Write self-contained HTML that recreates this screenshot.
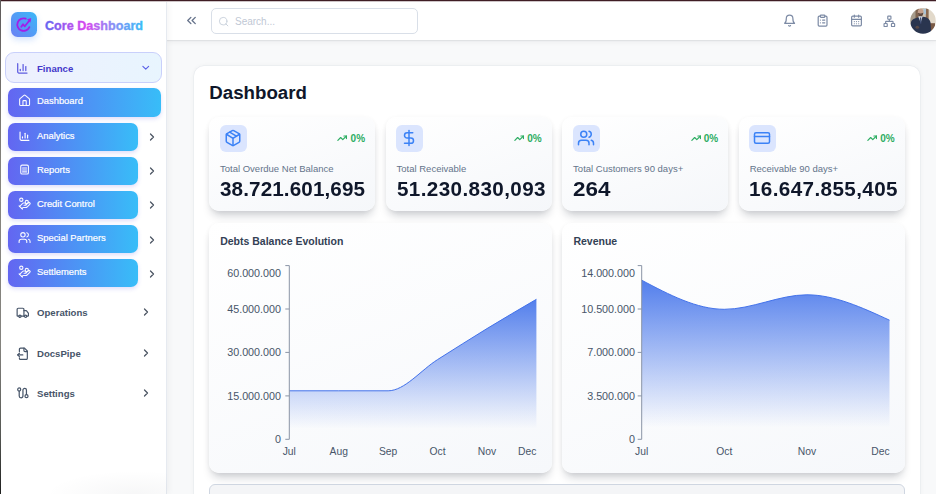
<!DOCTYPE html><html><head><meta charset="utf-8"><style>
*{margin:0;padding:0;box-sizing:content-box}
html,body{width:936px;height:494px;overflow:hidden;background:#f8f9fa}
body{position:relative;font-family:"Liberation Sans",sans-serif}
.r{position:absolute}
.t{position:absolute;white-space:nowrap;line-height:1}
</style></head><body>
<div class="r" style="left:0px;top:0px;width:936.00px;height:494.00px;background:#f8f9fa;"></div>
<div class="r" style="left:167.4px;top:1.5px;width:768.60px;height:38.50px;background:#fff;box-shadow:0 1px 1px rgba(15,23,42,0.07),0 2px 6px rgba(15,23,42,0.05);"></div>
<div class="r" style="left:1px;top:1.5px;width:166.40px;height:492.50px;background:#fff;box-shadow:1px 0 7px rgba(15,23,42,0.055);border-right:0.6px solid #e6eaf0;box-sizing:border-box;"></div>
<div class="r" style="left:40px;top:455px;width:127.40px;height:39.00px;background:radial-gradient(ellipse 70% 60% at 75% 100%,rgba(15,23,42,0.035),rgba(15,23,42,0) 100%);"></div>
<div class="r" style="left:0px;top:0px;width:936.00px;height:2.20px;background:linear-gradient(#3f1d24 0%,#3f1d24 40%,rgba(120,90,95,0.45) 65%,rgba(255,255,255,0) 100%);"></div>
<div class="r" style="left:0px;top:0px;width:1.00px;height:494.00px;background:linear-gradient(#5e5a5a 0%,#87857f 35%,#84837e 70%,#555753 88%,#1e1f1e 100%);"></div>
<div class="r" style="left:10.9px;top:11.9px;width:25.90px;height:25.60px;border-radius:6.5px;background:linear-gradient(45deg,#6b80f4,#3ab8f8);box-shadow:0 3px 6px rgba(59,130,246,0.22);"></div>
<svg class="r" style="left:8px;top:9px;" width="32" height="32" viewBox="8 9 32 32" fill="none"><g stroke="#a21fe8" stroke-width="1.8" stroke-linecap="round" stroke-linejoin="round"><path d="M25.8 18.7 A6.3 6.3 0 1 0 29.4 27.1"/><path d="M21.3 26.8 L23 24.3 L24.8 26.3 L29.6 20.2"/></g><path d="M30.8 18.6 L27.6 19.6 L30 22.2 Z" fill="#a21fe8" stroke="#a21fe8" stroke-width="0.8" stroke-linejoin="round"/></svg>
<svg class="r" style="left:40px;top:12px" width="110" height="24" viewBox="40 12 110 24"><defs><linearGradient id="lg" x1="45" y1="0" x2="143.5" y2="0" gradientUnits="userSpaceOnUse"><stop offset="0" stop-color="#6366f1"/><stop offset="0.42" stop-color="#d946ef"/><stop offset="0.68" stop-color="#8b8cf5"/><stop offset="1" stop-color="#38bdf8"/></linearGradient></defs><text x="45" y="29.6" font-family="Liberation Sans" font-weight="700" font-size="12.8" fill="url(#lg)" stroke="url(#lg)" stroke-width="0.35" textLength="98" lengthAdjust="spacingAndGlyphs">Core Dashboard</text></svg>
<div class="r" style="left:5px;top:52.3px;width:157.40px;height:30.70px;border:1px solid #c9d0fb;border-radius:9px;background:linear-gradient(90deg,#eef0fe,#e8f5fe);box-sizing:border-box;"></div>
<svg class="r" style="left:12px;top:58px;" width="20" height="20" viewBox="12 58 20 20" fill="none"><g stroke="#5f5ce0" stroke-width="1.25" stroke-linecap="round" stroke-linejoin="round"><path d="M17.7 63.7V71.8a1.2 1.2 0 0 0 1.2 1.2H27"/><path d="M20.3 69.4v1.2"/><path d="M23.1 64.6v6"/><path d="M25.8 66.6v4"/></g></svg>
<div class="t" style="left:37.00px;top:64.07px;font-size:9.6px;color:#4338ca;font-weight:700;">Finance</div>
<svg class="r" style="left:139.90px;top:61.90px;" width="11.50" height="11.50" viewBox="0 0 24 24" fill="none" stroke="#5b61e8" stroke-width="2.4" stroke-linecap="round" stroke-linejoin="round"><path d="m6 9 6 6 6-6"/></svg>
<div class="r" style="left:8.2px;top:88.4px;width:153.30px;height:28.30px;border-radius:7px;background:linear-gradient(90deg,#6366f1,#38bdf8);box-shadow:0 2px 4px rgba(79,70,229,0.18);"></div>
<svg class="r" style="left:17.80px;top:94.20px;" width="13.20" height="13.20" viewBox="0 0 24 24" fill="none" stroke="rgba(255,255,255,0.95)" stroke-width="2" stroke-linecap="round" stroke-linejoin="round"><path d="M15 21v-8a1 1 0 0 0-1-1h-4a1 1 0 0 0-1 1v8"/><path d="M3 10a2 2 0 0 1 .709-1.528l7-5.999a2 2 0 0 1 2.582 0l7 5.999A2 2 0 0 1 21 10v9a2 2 0 0 1-2 2H5a2 2 0 0 1-2-2z"/></svg>
<div class="t" style="left:37.00px;top:96.44px;font-size:9.4px;color:#fff;font-weight:400;-webkit-text-stroke:0.2px #fff;">Dashboard</div>
<div class="r" style="left:8.2px;top:122.5px;width:129.40px;height:28.30px;border-radius:7px;background:linear-gradient(90deg,#6366f1,#38bdf8);box-shadow:0 2px 4px rgba(79,70,229,0.18);"></div>
<svg class="r" style="left:14px;top:122.5px;" width="20" height="28" viewBox="14 122.5 20 28" fill="none"><g stroke="#fff" stroke-width="1.15" stroke-linecap="round" stroke-linejoin="round" transform="translate(0,0.0)"><path d="M20.05 131.45V138.6a1.2 1.2 0 0 0 1.2 1.2H28.95"/><path d="M22.5 136.4v1.1"/><path d="M25.1 132.85v4.65"/><path d="M27.6 134.65v2.85"/></g></svg>
<div class="t" style="left:37.00px;top:130.54px;font-size:9.4px;color:#fff;font-weight:400;-webkit-text-stroke:0.2px #fff;">Analytics</div>
<svg class="r" style="left:146.00px;top:131.10px;" width="12.00" height="12.00" viewBox="0 0 24 24" fill="none" stroke="#4b5563" stroke-width="2.5" stroke-linecap="round" stroke-linejoin="round"><path d="m9 18 6-6-6-6"/></svg>
<div class="r" style="left:8.2px;top:156.6px;width:129.40px;height:28.30px;border-radius:7px;background:linear-gradient(90deg,#6366f1,#38bdf8);box-shadow:0 2px 4px rgba(79,70,229,0.18);"></div>
<svg class="r" style="left:17.80px;top:162.40px;" width="13.20" height="13.20" viewBox="0 0 24 24" fill="none" stroke="rgba(255,255,255,0.95)" stroke-width="2" stroke-linecap="round" stroke-linejoin="round"><rect x="5" y="5.6" width="14" height="16.3" rx="2.5"/><path d="M8.3 11h7.4"/><path d="M8.3 14.5h7.4"/><path d="M8.3 18h7.4"/></svg>
<div class="t" style="left:37.00px;top:164.64px;font-size:9.4px;color:#fff;font-weight:400;-webkit-text-stroke:0.2px #fff;">Reports</div>
<svg class="r" style="left:146.00px;top:165.20px;" width="12.00" height="12.00" viewBox="0 0 24 24" fill="none" stroke="#4b5563" stroke-width="2.5" stroke-linecap="round" stroke-linejoin="round"><path d="m9 18 6-6-6-6"/></svg>
<div class="r" style="left:8.2px;top:190.8px;width:129.40px;height:28.30px;border-radius:7px;background:linear-gradient(90deg,#6366f1,#38bdf8);box-shadow:0 2px 4px rgba(79,70,229,0.18);"></div>
<svg class="r" style="left:17.80px;top:197.00px;" width="13.20" height="13.20" viewBox="0 0 24 24" fill="none" stroke="rgba(255,255,255,0.95)" stroke-width="2" stroke-linecap="round" stroke-linejoin="round"><path d="M11 15h2a2 2 0 1 0 0-4h-3c-.6 0-1.1.2-1.4.6L3 17"/><path d="m7 21 1.6-1.4c.3-.4.8-.6 1.4-.6h4c1.1 0 2.1-.4 2.8-1.2l4.6-4.4a2 2 0 0 0-2.75-2.91l-4.2 3.9"/><path d="m2 16 6 6"/><circle cx="16" cy="9" r="2.9"/><circle cx="6" cy="5" r="3"/></svg>
<div class="t" style="left:37.00px;top:198.84px;font-size:9.4px;color:#fff;font-weight:400;-webkit-text-stroke:0.2px #fff;">Credit Control</div>
<svg class="r" style="left:146.00px;top:199.40px;" width="12.00" height="12.00" viewBox="0 0 24 24" fill="none" stroke="#4b5563" stroke-width="2.5" stroke-linecap="round" stroke-linejoin="round"><path d="m9 18 6-6-6-6"/></svg>
<div class="r" style="left:8.2px;top:224.9px;width:129.40px;height:28.30px;border-radius:7px;background:linear-gradient(90deg,#6366f1,#38bdf8);box-shadow:0 2px 4px rgba(79,70,229,0.18);"></div>
<svg class="r" style="left:17.80px;top:230.70px;" width="13.20" height="13.20" viewBox="0 0 24 24" fill="none" stroke="rgba(255,255,255,0.95)" stroke-width="2" stroke-linecap="round" stroke-linejoin="round"><path d="M16 21v-2a4 4 0 0 0-4-4H6a4 4 0 0 0-4 4v2"/><circle cx="9" cy="7" r="4"/><path d="M22 21v-2a4 4 0 0 0-3-3.87"/><path d="M16 3.13a4 4 0 0 1 0 7.75"/></svg>
<div class="t" style="left:37.00px;top:232.94px;font-size:9.4px;color:#fff;font-weight:400;-webkit-text-stroke:0.2px #fff;">Special Partners</div>
<svg class="r" style="left:146.00px;top:233.50px;" width="12.00" height="12.00" viewBox="0 0 24 24" fill="none" stroke="#4b5563" stroke-width="2.5" stroke-linecap="round" stroke-linejoin="round"><path d="m9 18 6-6-6-6"/></svg>
<div class="r" style="left:8.2px;top:259.1px;width:129.40px;height:28.30px;border-radius:7px;background:linear-gradient(90deg,#6366f1,#38bdf8);box-shadow:0 2px 4px rgba(79,70,229,0.18);"></div>
<svg class="r" style="left:17.80px;top:265.30px;" width="13.20" height="13.20" viewBox="0 0 24 24" fill="none" stroke="rgba(255,255,255,0.95)" stroke-width="2" stroke-linecap="round" stroke-linejoin="round"><path d="M11 15h2a2 2 0 1 0 0-4h-3c-.6 0-1.1.2-1.4.6L3 17"/><path d="m7 21 1.6-1.4c.3-.4.8-.6 1.4-.6h4c1.1 0 2.1-.4 2.8-1.2l4.6-4.4a2 2 0 0 0-2.75-2.91l-4.2 3.9"/><path d="m2 16 6 6"/><circle cx="16" cy="9" r="2.9"/><circle cx="6" cy="5" r="3"/></svg>
<div class="t" style="left:37.00px;top:267.14px;font-size:9.4px;color:#fff;font-weight:400;-webkit-text-stroke:0.2px #fff;">Settlements</div>
<svg class="r" style="left:146.00px;top:267.70px;" width="12.00" height="12.00" viewBox="0 0 24 24" fill="none" stroke="#4b5563" stroke-width="2.5" stroke-linecap="round" stroke-linejoin="round"><path d="m9 18 6-6-6-6"/></svg>
<svg class="r" style="left:15.80px;top:305.80px;" width="13.60" height="13.60" viewBox="0 0 24 24" fill="none" stroke="#475569" stroke-width="2.1" stroke-linecap="round" stroke-linejoin="round"><path d="M14 18V6a2 2 0 0 0-2-2H4a2 2 0 0 0-2 2v11a1 1 0 0 0 1 1h2"/><path d="M15 18H9"/><path d="M19 18h2a1 1 0 0 0 1-1v-3.65a1 1 0 0 0-.22-.624l-3.48-4.35A1 1 0 0 0 17.52 8H14"/><circle cx="17" cy="18" r="2"/><circle cx="7" cy="18" r="2"/></svg>
<div class="t" style="left:37.00px;top:308.07px;font-size:9.6px;color:#475569;font-weight:700;">Operations</div>
<svg class="r" style="left:139.80px;top:305.90px;" width="12.00" height="12.00" viewBox="0 0 24 24" fill="none" stroke="#4b5563" stroke-width="2.5" stroke-linecap="round" stroke-linejoin="round"><path d="m9 18 6-6-6-6"/></svg>
<svg class="r" style="left:15.80px;top:346.50px;" width="13.60" height="13.60" viewBox="0 0 24 24" fill="none" stroke="#475569" stroke-width="2.1" stroke-linecap="round" stroke-linejoin="round"><path d="M6 8V4a2 2 0 0 1 2-2h7l5 5v13a2 2 0 0 1-2 2H8a2 2 0 0 1-2-2v-1"/><path d="M14 2v4a2 2 0 0 0 2 2h4"/><path d="M12 14H3"/><path d="m6 11-3 3 3 3"/></svg>
<div class="t" style="left:37.00px;top:348.77px;font-size:9.6px;color:#475569;font-weight:700;">DocsPipe</div>
<svg class="r" style="left:139.80px;top:346.60px;" width="12.00" height="12.00" viewBox="0 0 24 24" fill="none" stroke="#4b5563" stroke-width="2.5" stroke-linecap="round" stroke-linejoin="round"><path d="m9 18 6-6-6-6"/></svg>
<svg class="r" style="left:15.60px;top:386.40px;" width="14.00" height="14.00" viewBox="0 0 24 24" fill="none" stroke="#475569" stroke-width="2.1" stroke-linecap="round" stroke-linejoin="round"><circle cx="5.5" cy="6" r="2.6"/><path d="M5.5 8.6V17a3.2 3.2 0 0 0 6.4 0V7a3 3 0 0 1 6 0v7.5"/><circle cx="18" cy="17.5" r="2.6"/></svg>
<div class="t" style="left:37.00px;top:388.77px;font-size:9.6px;color:#475569;font-weight:700;">Settings</div>
<svg class="r" style="left:139.80px;top:386.60px;" width="12.00" height="12.00" viewBox="0 0 24 24" fill="none" stroke="#4b5563" stroke-width="2.5" stroke-linecap="round" stroke-linejoin="round"><path d="m9 18 6-6-6-6"/></svg>
<svg class="r" style="left:184.20px;top:13.40px;" width="15.00" height="15.00" viewBox="0 0 24 24" fill="none" stroke="#66738b" stroke-width="2.2" stroke-linecap="round" stroke-linejoin="round"><path d="m11 17-5-5 5-5"/><path d="m18 17-5-5 5-5"/></svg>
<div class="r" style="left:211.4px;top:8.3px;width:206.90px;height:25.40px;border:1px solid #d9dfe8;border-radius:5px;box-sizing:border-box;background:#fff;"></div>
<svg class="r" style="left:217.50px;top:15.50px;" width="11.30" height="11.30" viewBox="0 0 24 24" fill="none" stroke="#c8d0db" stroke-width="2" stroke-linecap="round" stroke-linejoin="round"><circle cx="11" cy="11" r="8"/><path d="m21 21-4.3-4.3"/></svg>
<div class="t" style="left:235.00px;top:17.14px;font-size:10px;color:#bfc8d5;font-weight:400;">Search...</div>
<svg class="r" style="left:782.70px;top:14.20px;" width="13.20" height="13.20" viewBox="0 0 24 24" fill="none" stroke="#7d8ba5" stroke-width="2.2" stroke-linecap="round" stroke-linejoin="round"><path d="M6 8a6 6 0 0 1 12 0c0 7 3 9 3 9H3s3-2 3-9"/><path d="M10.3 21a1.94 1.94 0 0 0 3.4 0"/></svg>
<svg class="r" style="left:815.90px;top:14.40px;" width="13.20" height="13.20" viewBox="0 0 24 24" fill="none" stroke="#7d8ba5" stroke-width="2.2" stroke-linecap="round" stroke-linejoin="round"><rect width="8" height="4" x="8" y="2" rx="1" ry="1"/><path d="M16 4h2a2 2 0 0 1 2 2v14a2 2 0 0 1-2 2H6a2 2 0 0 1-2-2V6a2 2 0 0 1 2-2h2"/><path d="M12 11h4"/><path d="M12 16h4"/><path d="M8 11h.01"/><path d="M8 16h.01"/></svg>
<svg class="r" style="left:849.70px;top:14.30px;" width="13.00" height="13.00" viewBox="0 0 24 24" fill="none" stroke="#7d8ba5" stroke-width="2.2" stroke-linecap="round" stroke-linejoin="round"><path d="M8 2v4"/><path d="M16 2v4"/><rect width="18" height="18" x="3" y="4" rx="2"/><path d="M3 10h18"/><path d="M8 14h.01"/><path d="M12 14h.01"/><path d="M16 14h.01"/><path d="M8 18h.01"/><path d="M12 18h.01"/><path d="M16 18h.01"/></svg>
<svg class="r" style="left:883.40px;top:14.50px;" width="12.70" height="12.70" viewBox="0 0 24 24" fill="none" stroke="#7d8ba5" stroke-width="2.2" stroke-linecap="round" stroke-linejoin="round"><rect x="16" y="16" width="6" height="6" rx="1"/><rect x="2" y="16" width="6" height="6" rx="1"/><rect x="9" y="2" width="6" height="6" rx="1"/><path d="M5 16v-3a1 1 0 0 1 1-1h12a1 1 0 0 1 1 1v3"/><path d="M12 12V8"/></svg>
<svg class="r" style="left:910px;top:7.8px" width="26" height="26" viewBox="910 7.8 26 26">
<defs><clipPath id="avc"><circle cx="923" cy="20.7" r="12.8"/></clipPath><filter id="avb" x="-20%" y="-20%" width="140%" height="140%"><feGaussianBlur stdDeviation="0.7"/></filter></defs>
<g clip-path="url(#avc)"><g filter="url(#avb)">
<rect x="905" y="3" width="36" height="36" fill="#cfc4b3"/>
<rect x="905" y="3" width="12" height="36" fill="#a79c8c"/>
<rect x="915.5" y="5" width="3.5" height="14" fill="#7f6450"/>
<rect x="928.5" y="5" width="7.5" height="30" fill="#e2d9ca"/>
<rect x="925.8" y="6" width="2.8" height="14" fill="#8a6a52"/>
<rect x="923.4" y="8.5" width="2.6" height="5.5" fill="#aac3d6"/>
<rect x="930" y="23" width="5" height="10" fill="#7a5a44"/>
<ellipse cx="920.6" cy="12" rx="2.8" ry="3.6" fill="#c4a08c"/><path d="M917.9 12.6 Q918.4 16.6 920.6 16.6 Q922.8 16.6 923.3 12.6 Q920.6 14.2 917.9 12.6Z" fill="#5e4a3f"/>

<path d="M910 36 L910.5 24 Q911 19 915.5 18 L920.5 16.2 L925 16.8 Q929.5 18 930.5 22 L931.5 36Z" fill="#2b3450"/>
<path d="M918.2 16.2 L920.5 16 L922.6 16.3 L920.7 22.5Z" fill="#d9dee6"/>
<path d="M920 17.2 L921.2 17.2 L921.4 23 L920.3 24Z" fill="#3b4a70"/>
<ellipse cx="917.3" cy="27" rx="1.8" ry="1.5" fill="#5a4a44"/>
</g></g></svg>
<div class="r" style="left:194px;top:66px;width:725.50px;height:454.00px;background:#fff;border-radius:10px;box-shadow:0 0 0 0.5px rgba(225,229,235,0.7),0 0 5px rgba(15,23,42,0.05);"></div>
<div class="t" style="left:209.30px;top:84.37px;font-size:18.7px;color:#0f172a;font-weight:700;">Dashboard</div>
<div class="r" style="left:209.0px;top:116.7px;width:166.35px;height:93.90px;border-radius:10px;background:linear-gradient(160deg,#ffffff,#f5f7fa);box-shadow:0 7px 10px -3px rgba(15,23,42,0.21),0 1px 5px rgba(15,23,42,0.05);"></div>
<div class="r" style="left:219.5px;top:125.1px;width:27.20px;height:26.80px;border-radius:6px;background:#dbe5fe;"></div>
<svg class="r" style="left:223.60px;top:129.40px;" width="18.00" height="18.00" viewBox="0 0 24 24" fill="none" stroke="#3b82f6" stroke-width="2" stroke-linecap="round" stroke-linejoin="round"><path d="M11 21.73a2 2 0 0 0 2 0l7-4A2 2 0 0 0 21 16V8a2 2 0 0 0-1-1.73l-7-4a2 2 0 0 0-2 0l-7 4A2 2 0 0 0 3 8v8a2 2 0 0 0 1 1.73z"/><path d="M12 22V12"/><path d="m3.3 7 7.703 4.734a2 2 0 0 0 1.994 0L20.7 7"/><path d="m7.5 4.27 9 5.15"/></svg>
<div class="t" style="right:570.95px;text-align:right;top:134.44px;font-size:10px;color:#2cad62;font-weight:700;">0%</div>
<svg class="r" style="left:337.45px;top:133.30px;" width="10.30" height="10.30" viewBox="0 0 24 24" fill="none" stroke="#2cad62" stroke-width="2.7" stroke-linecap="round" stroke-linejoin="round"><polyline points="22 7 13.5 15.5 8.5 10.5 2 17"/><polyline points="16 7 22 7 22 13"/></svg>
<div class="t" style="left:220.00px;top:164.36px;font-size:9.5px;color:#64748b;font-weight:400;">Total Overdue Net Balance</div>
<div class="t" style="left:220.00px;top:179.89px;font-size:19.5px;color:#0f172a;font-weight:700;letter-spacing:0.1px;transform:scaleX(1.06);transform-origin:0 0;">38.721.601,695</div>
<div class="r" style="left:385.55px;top:116.7px;width:166.35px;height:93.90px;border-radius:10px;background:linear-gradient(160deg,#ffffff,#f5f7fa);box-shadow:0 7px 10px -3px rgba(15,23,42,0.21),0 1px 5px rgba(15,23,42,0.05);"></div>
<div class="r" style="left:396.05px;top:125.1px;width:27.20px;height:26.80px;border-radius:6px;background:#dbe5fe;"></div>
<svg class="r" style="left:400.15px;top:129.40px;" width="18.00" height="18.00" viewBox="0 0 24 24" fill="none" stroke="#3b82f6" stroke-width="2" stroke-linecap="round" stroke-linejoin="round"><line x1="12" x2="12" y1="2" y2="22"/><path d="M17 5H9.5a3.5 3.5 0 0 0 0 7h5a3.5 3.5 0 0 1 0 7H6"/></svg>
<div class="t" style="right:394.40px;text-align:right;top:134.44px;font-size:10px;color:#2cad62;font-weight:700;">0%</div>
<svg class="r" style="left:514.00px;top:133.30px;" width="10.30" height="10.30" viewBox="0 0 24 24" fill="none" stroke="#2cad62" stroke-width="2.7" stroke-linecap="round" stroke-linejoin="round"><polyline points="22 7 13.5 15.5 8.5 10.5 2 17"/><polyline points="16 7 22 7 22 13"/></svg>
<div class="t" style="left:396.55px;top:164.36px;font-size:9.5px;color:#64748b;font-weight:400;">Total Receivable</div>
<div class="t" style="left:396.55px;top:179.89px;font-size:19.5px;color:#0f172a;font-weight:700;letter-spacing:0.35px;transform:scaleX(1.06);transform-origin:0 0;">51.230.830,093</div>
<div class="r" style="left:562.1px;top:116.7px;width:166.35px;height:93.90px;border-radius:10px;background:linear-gradient(160deg,#ffffff,#f5f7fa);box-shadow:0 7px 10px -3px rgba(15,23,42,0.21),0 1px 5px rgba(15,23,42,0.05);"></div>
<div class="r" style="left:572.6px;top:125.1px;width:27.20px;height:26.80px;border-radius:6px;background:#dbe5fe;"></div>
<svg class="r" style="left:576.70px;top:129.40px;" width="18.00" height="18.00" viewBox="0 0 24 24" fill="none" stroke="#3b82f6" stroke-width="2" stroke-linecap="round" stroke-linejoin="round"><path d="M16 21v-2a4 4 0 0 0-4-4H6a4 4 0 0 0-4 4v2"/><circle cx="9" cy="7" r="4"/><path d="M22 21v-2a4 4 0 0 0-3-3.87"/><path d="M16 3.13a4 4 0 0 1 0 7.75"/></svg>
<div class="t" style="right:217.85px;text-align:right;top:134.44px;font-size:10px;color:#2cad62;font-weight:700;">0%</div>
<svg class="r" style="left:690.55px;top:133.30px;" width="10.30" height="10.30" viewBox="0 0 24 24" fill="none" stroke="#2cad62" stroke-width="2.7" stroke-linecap="round" stroke-linejoin="round"><polyline points="22 7 13.5 15.5 8.5 10.5 2 17"/><polyline points="16 7 22 7 22 13"/></svg>
<div class="t" style="left:573.10px;top:164.36px;font-size:9.5px;color:#64748b;font-weight:400;">Total Customers 90 days+</div>
<div class="t" style="left:573.10px;top:179.89px;font-size:19.5px;color:#0f172a;font-weight:700;letter-spacing:0px;transform:scaleX(1.15);transform-origin:0 0;">264</div>
<div class="r" style="left:738.6500000000001px;top:116.7px;width:166.35px;height:93.90px;border-radius:10px;background:linear-gradient(160deg,#ffffff,#f5f7fa);box-shadow:0 7px 10px -3px rgba(15,23,42,0.21),0 1px 5px rgba(15,23,42,0.05);"></div>
<div class="r" style="left:749.1500000000001px;top:125.1px;width:27.20px;height:26.80px;border-radius:6px;background:#dbe5fe;"></div>
<svg class="r" style="left:753.25px;top:129.40px;" width="18.00" height="18.00" viewBox="0 0 24 24" fill="none" stroke="#3b82f6" stroke-width="2" stroke-linecap="round" stroke-linejoin="round"><rect width="20" height="14" x="2" y="5" rx="2"/><line x1="2" x2="22" y1="10" y2="10"/></svg>
<div class="t" style="right:41.30px;text-align:right;top:134.44px;font-size:10px;color:#2cad62;font-weight:700;">0%</div>
<svg class="r" style="left:867.10px;top:133.30px;" width="10.30" height="10.30" viewBox="0 0 24 24" fill="none" stroke="#2cad62" stroke-width="2.7" stroke-linecap="round" stroke-linejoin="round"><polyline points="22 7 13.5 15.5 8.5 10.5 2 17"/><polyline points="16 7 22 7 22 13"/></svg>
<div class="t" style="left:749.65px;top:164.36px;font-size:9.5px;color:#64748b;font-weight:400;">Receivable 90 days+</div>
<div class="t" style="left:748.85px;top:179.89px;font-size:19.5px;color:#0f172a;font-weight:700;letter-spacing:0.35px;transform:scaleX(1.06);transform-origin:0 0;">16.647.855,405</div>
<div class="r" style="left:209.2px;top:222.5px;width:342.80px;height:250.60px;border-radius:10px;background:linear-gradient(160deg,#ffffff,#f6f8fb);box-shadow:0 7px 10px -3px rgba(15,23,42,0.21),0 1px 5px rgba(15,23,42,0.05);"></div>
<div class="t" style="left:220.20px;top:235.71px;font-size:10.5px;color:#334155;font-weight:700;">Debts Balance Evolution</div>
<div class="r" style="left:562.4px;top:222.5px;width:342.60px;height:250.60px;border-radius:10px;background:linear-gradient(160deg,#ffffff,#f6f8fb);box-shadow:0 7px 10px -3px rgba(15,23,42,0.21),0 1px 5px rgba(15,23,42,0.05);"></div>
<div class="t" style="left:573.40px;top:235.71px;font-size:10.5px;color:#334155;font-weight:700;">Revenue</div>
<div class="r" style="left:209.4px;top:484.4px;width:695.60px;height:55.60px;border:1px solid #cfd6e1;border-radius:6px;background:#f4f5f7;box-sizing:border-box;"></div>
<svg class="r" style="left:0;top:0" width="936" height="494"><defs><linearGradient id="g1" x1="0" y1="299.3" x2="0" y2="439.3" gradientUnits="userSpaceOnUse"><stop offset="0" stop-color="#376ae9" stop-opacity="0.86"/><stop offset="0.925" stop-color="#376ae9" stop-opacity="0"/></linearGradient></defs><path d="M289.30,390.80C305.77,390.80,322.25,390.80,338.72,390.80C355.19,390.80,371.67,390.80,388.14,390.80C404.61,390.80,421.09,369.97,437.56,359.60C454.03,349.23,470.51,338.65,486.98,328.60C503.45,318.55,519.93,308.93,536.40,299.30L536.40,439.3L289.30,439.3Z" fill="url(#g1)"/><path d="M289.30,390.80C305.77,390.80,322.25,390.80,338.72,390.80C355.19,390.80,371.67,390.80,388.14,390.80C404.61,390.80,421.09,369.97,437.56,359.60C454.03,349.23,470.51,338.65,486.98,328.60C503.45,318.55,519.93,308.93,536.40,299.30" stroke="#4372ea" stroke-width="1" fill="none"/><path d="M289.3,265.6V439.3" stroke="#8a94a6" stroke-width="1"/><path d="M285.3,265.6H289.3" stroke="#8a94a6" stroke-width="1"/><path d="M285.3,309.0H289.3" stroke="#8a94a6" stroke-width="1"/><path d="M285.3,352.4H289.3" stroke="#8a94a6" stroke-width="1"/><path d="M285.3,395.9H289.3" stroke="#8a94a6" stroke-width="1"/><path d="M285.3,439.3H289.3" stroke="#8a94a6" stroke-width="1"/><defs><linearGradient id="g2" x1="0" y1="280.2" x2="0" y2="439.3" gradientUnits="userSpaceOnUse"><stop offset="0" stop-color="#376ae9" stop-opacity="0.86"/><stop offset="0.925" stop-color="#376ae9" stop-opacity="0"/></linearGradient></defs><path d="M641.70,280.20C669.23,294.75,696.77,309.30,724.30,309.30C751.83,309.30,779.37,294.80,806.90,294.80C834.43,294.80,861.97,307.50,889.50,320.20L889.50,439.3L641.70,439.3Z" fill="url(#g2)"/><path d="M641.70,280.20C669.23,294.75,696.77,309.30,724.30,309.30C751.83,309.30,779.37,294.80,806.90,294.80C834.43,294.80,861.97,307.50,889.50,320.20" stroke="#4372ea" stroke-width="1" fill="none"/><path d="M641.7,265.6V439.3" stroke="#8a94a6" stroke-width="1"/><path d="M637.7,265.6H641.7" stroke="#8a94a6" stroke-width="1"/><path d="M637.7,309.0H641.7" stroke="#8a94a6" stroke-width="1"/><path d="M637.7,352.4H641.7" stroke="#8a94a6" stroke-width="1"/><path d="M637.7,395.9H641.7" stroke="#8a94a6" stroke-width="1"/><path d="M637.7,439.3H641.7" stroke="#8a94a6" stroke-width="1"/></svg>
<div class="t" style="right:655.00px;text-align:right;top:267.80px;font-size:10.75px;color:#475569;font-weight:400;">60.000.000</div>
<div class="t" style="right:655.00px;text-align:right;top:303.70px;font-size:10.75px;color:#475569;font-weight:400;">45.000.000</div>
<div class="t" style="right:655.00px;text-align:right;top:347.10px;font-size:10.75px;color:#475569;font-weight:400;">30.000.000</div>
<div class="t" style="right:655.00px;text-align:right;top:390.50px;font-size:10.75px;color:#475569;font-weight:400;">15.000.000</div>
<div class="t" style="right:655.00px;text-align:right;top:433.80px;font-size:10.75px;color:#475569;font-weight:400;">0</div>
<div class="t" style="right:301.00px;text-align:right;top:267.80px;font-size:10.75px;color:#475569;font-weight:400;">14.000.000</div>
<div class="t" style="right:301.00px;text-align:right;top:303.70px;font-size:10.75px;color:#475569;font-weight:400;">10.500.000</div>
<div class="t" style="right:301.00px;text-align:right;top:347.10px;font-size:10.75px;color:#475569;font-weight:400;">7.000.000</div>
<div class="t" style="right:301.00px;text-align:right;top:390.50px;font-size:10.75px;color:#475569;font-weight:400;">3.500.000</div>
<div class="t" style="right:301.00px;text-align:right;top:433.80px;font-size:10.75px;color:#475569;font-weight:400;">0</div>
<div class="t" style="left:89.30px;width:400px;text-align:center;top:446.68px;font-size:10.3px;color:#475569;font-weight:400;">Jul</div>
<div class="t" style="left:138.72px;width:400px;text-align:center;top:446.68px;font-size:10.3px;color:#475569;font-weight:400;">Aug</div>
<div class="t" style="left:188.14px;width:400px;text-align:center;top:446.68px;font-size:10.3px;color:#475569;font-weight:400;">Sep</div>
<div class="t" style="left:237.56px;width:400px;text-align:center;top:446.68px;font-size:10.3px;color:#475569;font-weight:400;">Oct</div>
<div class="t" style="left:286.98px;width:400px;text-align:center;top:446.68px;font-size:10.3px;color:#475569;font-weight:400;">Nov</div>
<div class="t" style="right:399.70px;text-align:right;top:446.68px;font-size:10.3px;color:#475569;font-weight:400;">Dec</div>
<div class="t" style="left:441.70px;width:400px;text-align:center;top:446.68px;font-size:10.3px;color:#475569;font-weight:400;">Jul</div>
<div class="t" style="left:524.30px;width:400px;text-align:center;top:446.68px;font-size:10.3px;color:#475569;font-weight:400;">Oct</div>
<div class="t" style="left:606.90px;width:400px;text-align:center;top:446.68px;font-size:10.3px;color:#475569;font-weight:400;">Nov</div>
<div class="t" style="right:46.40px;text-align:right;top:446.68px;font-size:10.3px;color:#475569;font-weight:400;">Dec</div>
</body></html>
